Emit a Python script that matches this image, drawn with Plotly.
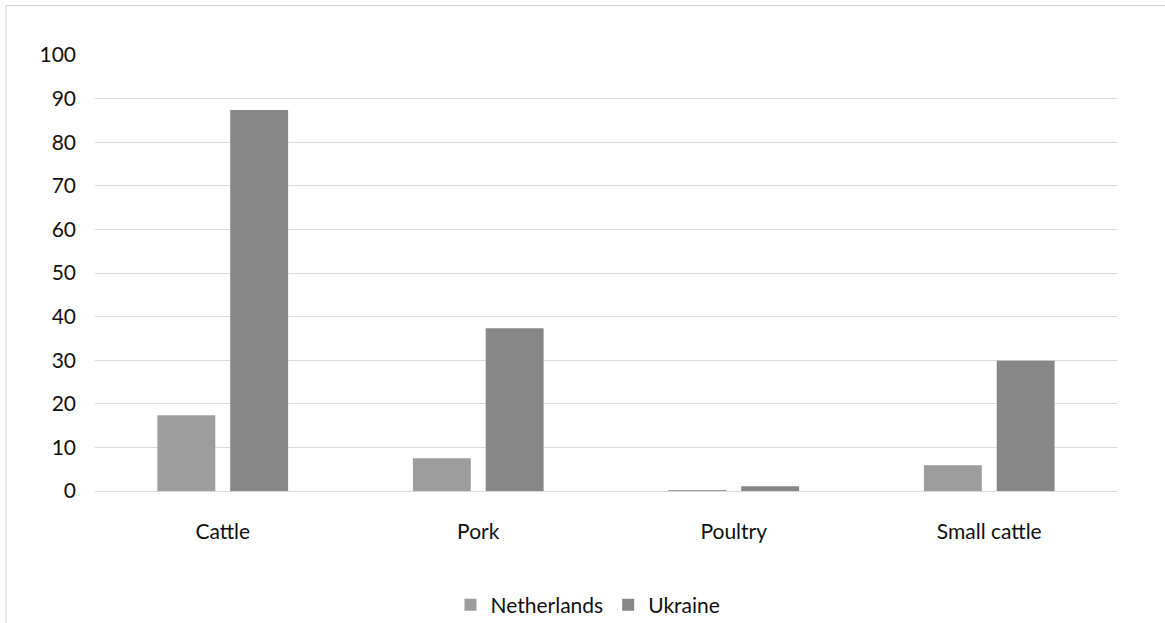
import plotly.graph_objects as go

# Categories and series values
categories = ["Cattle", "Pork", "Poultry", "Small cattle"]
netherlands = [17.4, 7.5, 0.2, 5.9]
ukraine = [87.4, 37.3, 1.1, 29.9]
y_ticks = [0, 10, 20, 30, 40, 50, 60, 70, 80, 90, 100]

FONT = "Lato"
FS = 21
TXT = "#111111"

fig = go.Figure()
fig.add_trace(go.Bar(name="Netherlands", x=categories, y=netherlands,
                     marker=dict(color="#9d9d9d", line=dict(width=0))))
fig.add_trace(go.Bar(name="Ukraine", x=categories, y=ukraine,
                     marker=dict(color="#878787", line=dict(width=0))))

# plot area geometry (pixels) used for the outer chart border
L, R, T, B = 95, 48, 55, 132
W, H = 1165, 623
pw, ph = W - L - R, H - T - B


def px_x(x):
    return (x - L) / pw


def px_y(y):
    return (H - B - y) / ph


fig.update_layout(
    width=W, height=H,
    margin=dict(l=L, r=R, t=T, b=B, autoexpand=False),
    paper_bgcolor="white", plot_bgcolor="white",
    barmode="group", bargap=0.43, bargroupgap=0.205,
    font=dict(family=FONT, size=FS, color=TXT),
    showlegend=True,
    legend=dict(orientation="h", x=px_x(588), xanchor="center",
                y=px_y(605), yanchor="middle",
                font=dict(family=FONT, size=FS, color=TXT),
                itemwidth=30, tracegroupgap=0),
    xaxis=dict(showgrid=False, showline=True, linecolor="#d9d9d9", linewidth=1,
               ticks="", ticklabelstandoff=22, automargin=False,
               tickfont=dict(family=FONT, size=FS, color=TXT)),
    yaxis=dict(range=[0, 100], tickvals=y_ticks, showgrid=True,
               gridcolor="#d9d9d9", gridwidth=1, zeroline=False,
               showline=False, ticks="", ticklabelstandoff=18, automargin=False,
               tickfont=dict(family=FONT, size=FS, color=TXT)),
    shapes=[dict(type="rect", xref="paper", yref="paper",
                 x0=px_x(6), x1=px_x(1180), y0=px_y(640), y1=px_y(5.5),
                 line=dict(color="#d0d0d0", width=1), layer="below")],
)

fig.write_html("out.html")
